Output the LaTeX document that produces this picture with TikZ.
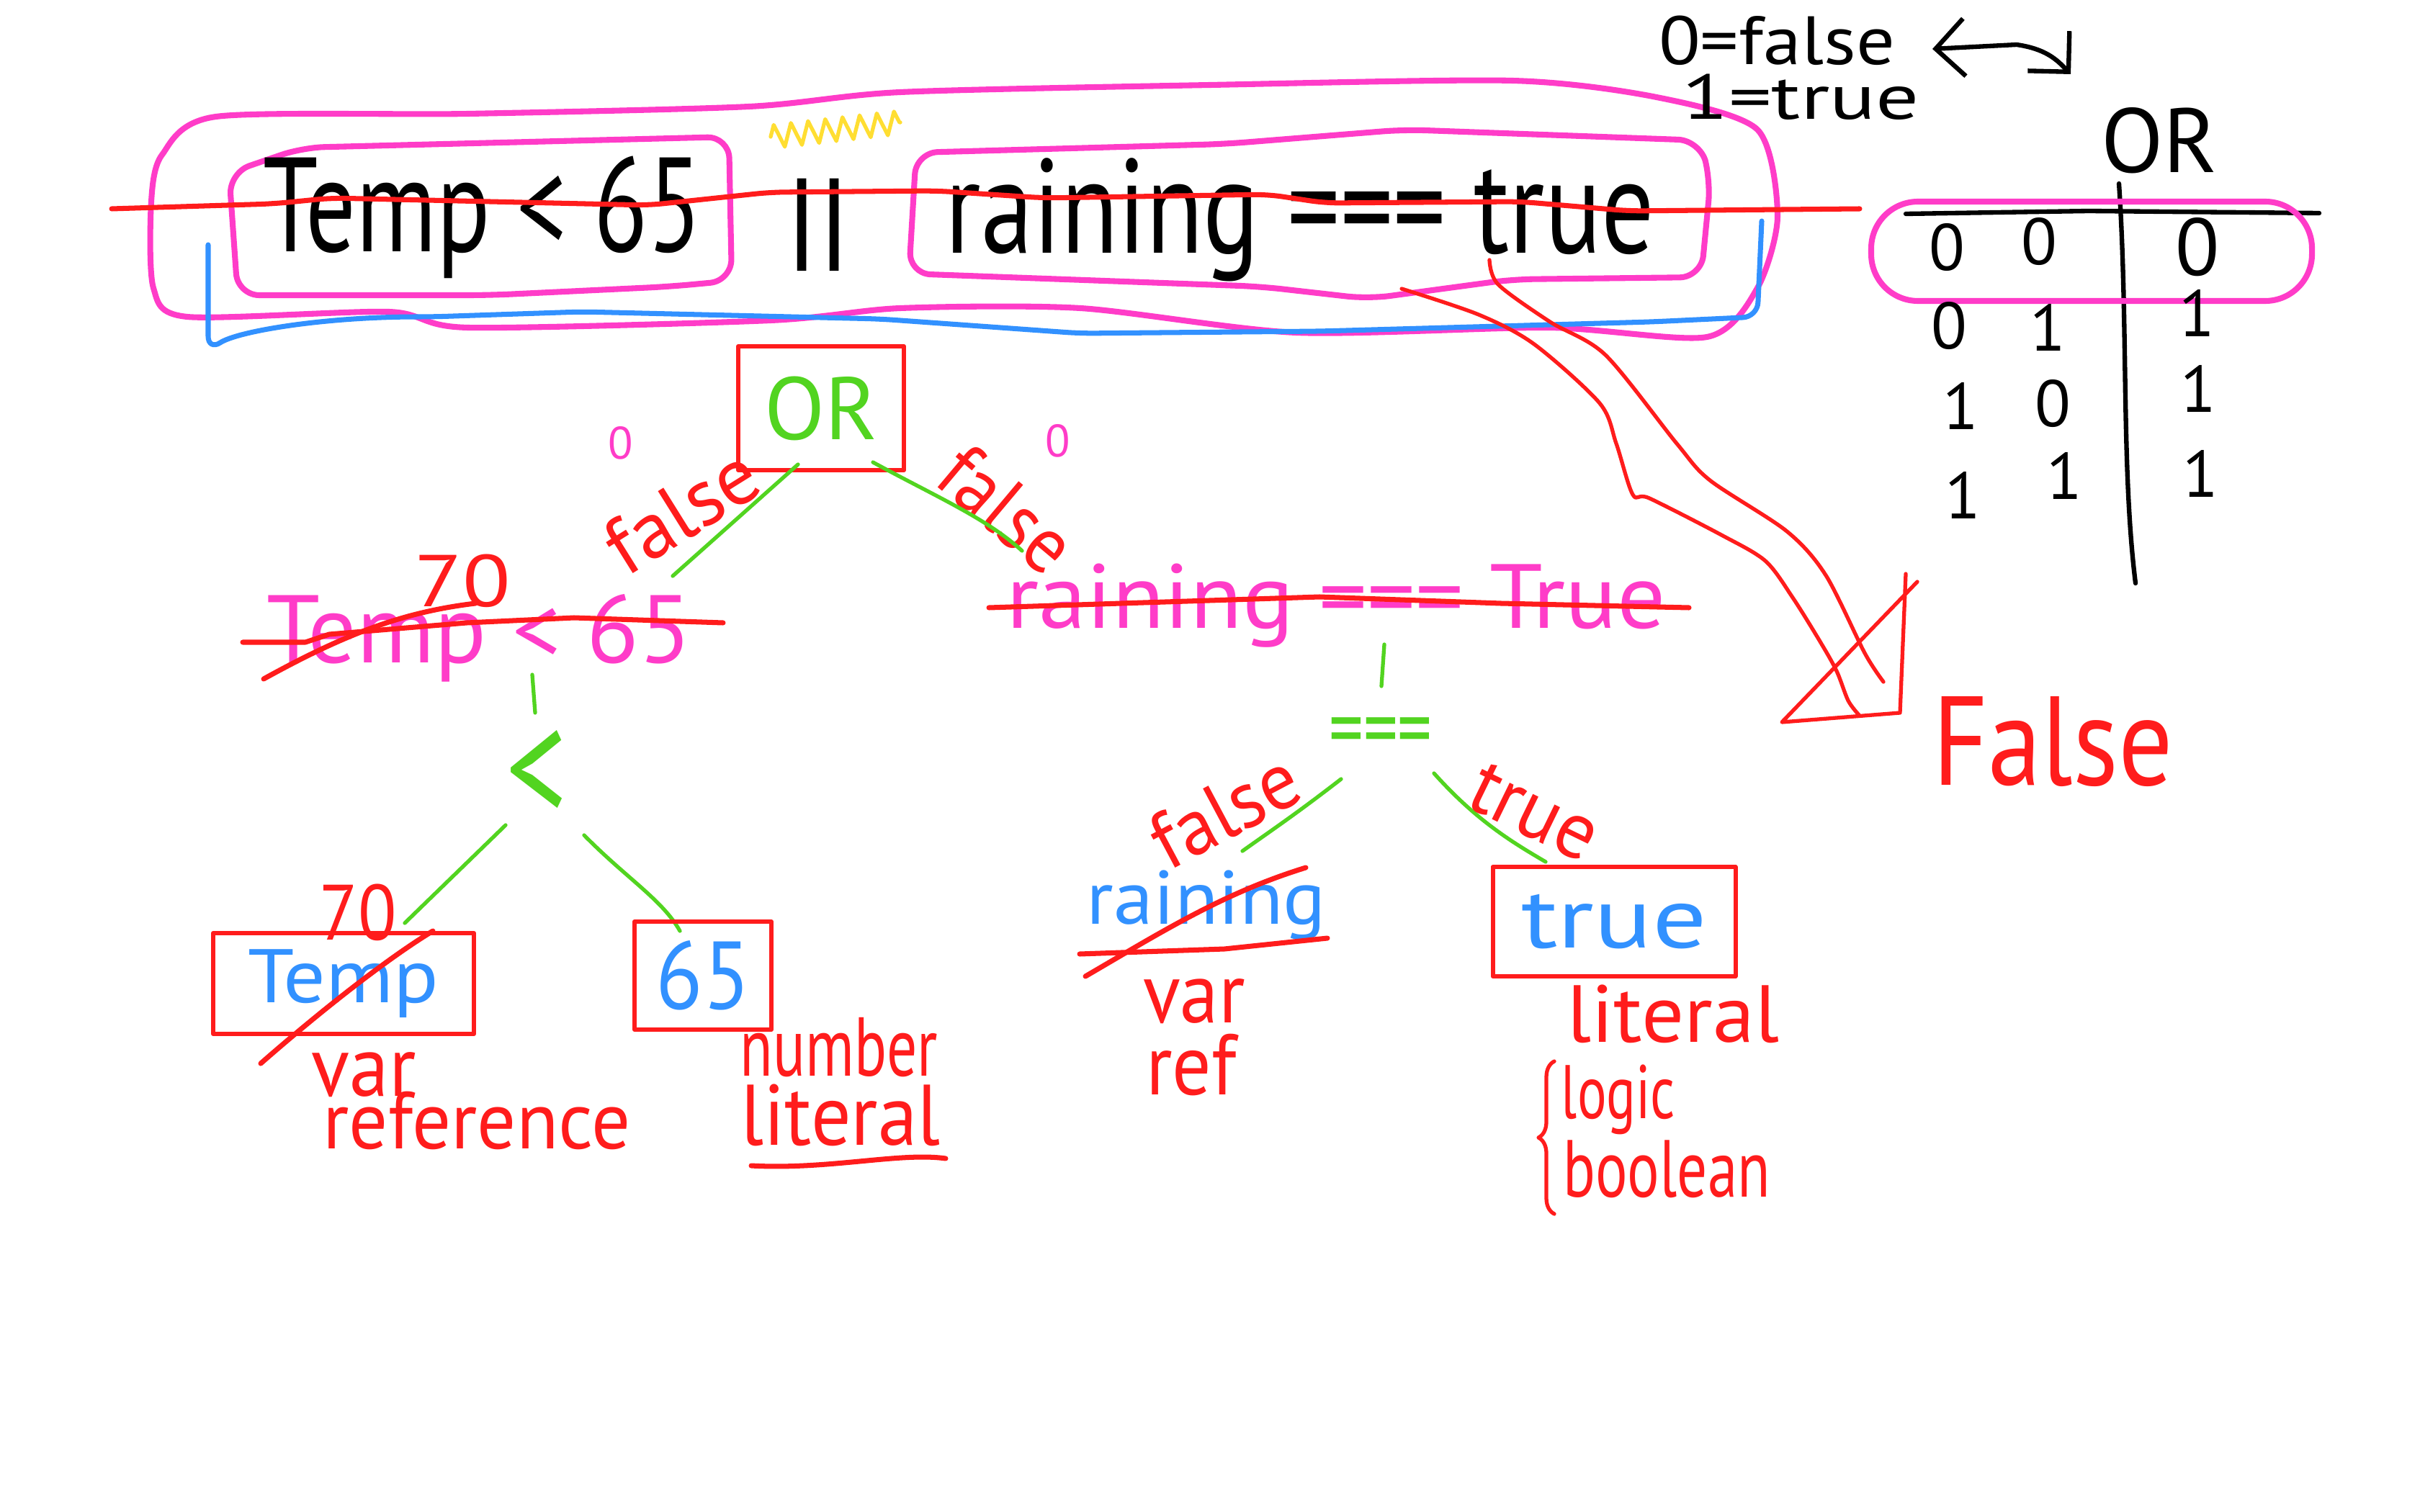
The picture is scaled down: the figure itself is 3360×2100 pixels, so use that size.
\documentclass[tikz,border=0pt]{standalone}
\usepackage{fontspec}
\setmainfont{PT Sans}
\usetikzlibrary{arrows.meta,decorations.pathmorphing,decorations.pathreplacing}
\definecolor{pk}{RGB}{255,60,200}
\definecolor{rd}{RGB}{255,28,28}
\definecolor{bl}{RGB}{50,145,255}
\definecolor{gn}{RGB}{82,212,32}
\definecolor{yl}{RGB}{255,222,50}
\begin{document}
\begin{tikzpicture}[x=0.1mm,y=-0.1mm,line cap=round,line join=round,
  hw/.style n args={3}{inner sep=0pt,anchor=base,text=#1,font=\fontsize{#2}{#2}\selectfont\addfontfeatures{FakeStretch=#3}},
  fnt/.style 2 args={font=\fontsize{#1}{#1}\selectfont\addfontfeatures{FakeStretch=#2}},
  pinkpen/.style={draw=pk,line width=2.3pt},
  redpen/.style={draw=rd,line width=2pt},
  thinred/.style={draw=rd,line width=1.5pt},
  greenpen/.style={draw=gn,line width=1.5pt},
  bluepen/.style={draw=bl,line width=2pt},
  blackpen/.style={draw=black,line width=1.8pt},
  rbox/.style 2 args={draw=rd,line width=1.7pt,minimum width=#1,minimum height=#2,inner sep=0pt},
]
\fill[white] (0,0) rectangle (3360,2100);
\useasboundingbox (0,0) rectangle (3360,2100);

% ---------- top expression ----------
\draw[pinkpen] plot[smooth cycle, tension=0.45] coordinates {(225,215) (300,162) (650,158) (1040,148) (1250,128) (1680,118) (2100,112) (2300,135) (2440,180) (2468,300) (2440,400) (2370,468) (2150,455) (1800,462) (1500,428) (1250,428) (1070,445) (650,455) (540,433) (260,440) (213,400) (210,280)};
\draw[bluepen, rounded corners=2mm] (289,340) -- (289,487) .. controls (330,460) and (450,440) .. (600,440) -- (808,433) -- (1222,443) -- (1500,463) -- (1834,460) -- (2293,447) -- (2440,440) -- (2446,307);
\draw[pinkpen, rounded corners=3mm] (318,240) -- (420,205) -- (1012,190) -- (1016,390) -- (930,398) -- (680,410) -- (330,410) -- cycle;
\draw[pinkpen, rounded corners=3mm] (1272,212) -- (1700,200) -- (1950,180) -- (2360,195) -- (2375,250) -- (2362,385) -- (2100,388) -- (1900,415) -- (1750,398) -- (1262,380) -- cycle;

\node[hw={black}{53}{0.74}] (topL) at (670,350) {Temp < 65};
\node[hw={black}{44}{1.2}, anchor=center] (topOr) at (1136,312) {||};
\node[hw={black}{53}{0.78}] (topR) at (1805,352) {raining === true};

\draw[redpen, rounded corners=2mm] (155,290) -- (380,283) -- (460,275) -- (900,285) -- (1070,267) -- (1300,265) -- (1450,275) -- (1760,270) -- (1840,282) -- (2110,280) -- (2262,293) -- (2582,290);
\draw[yl, line width=1.5pt, decorate, decoration={zigzag, segment length=2.4mm, amplitude=1.6mm}] (1070,190) -- (1250,170);

% ---------- legend & truth table ----------
\node[hw={black}{27}{1.12}] (zf) at (2467,90) {0=false};
\node[hw={black}{25}{1.35}] (ot) at (2500,166) {1=true};
\coordinate (arL) at (2683,68);
\coordinate (arR) at (2875,103);
\draw[blackpen, {Straight Barb[length=4mm,width=8mm]}-{Straight Barb[length=4mm,width=8mm]}] (arL) -- (2800,62) .. controls (2840,68) and (2855,82) .. (arR);

\node[hw={black}{36}{1}] (tOR) at (2998,240) {OR};
\draw[blackpen] (2646,297) -- (2900,293) -- (3220,296);
\draw[blackpen] (2942,255) .. controls (2955,450) and (2945,650) .. (2965,810);
\draw[pinkpen, rounded corners=6.5mm] (2598,280) rectangle (3210,418);
\begin{scope}[every node/.style={hw={black}{26}{1}, anchor=center}]
\node (c11) at (2703,344) {0};
\node (c12) at (2831,336) {0};
\node[fnt={32}{1}] (c13) at (3051,343) {0};
\node (c21) at (2706,453) {0};
\node (c22) at (2843,455) {1};
\node (c23) at (3050,435) {1};
\node (c31) at (2722,564) {1};
\node (c32) at (2850,561) {0};
\node (c33) at (3052,540) {1};
\node (c41) at (2725,688) {1};
\node (c42) at (2866,661) {1};
\node (c43) at (3055,658) {1};
\end{scope}

% ---------- tree ----------
\node[rbox={23mm}{17.2mm}, text=gn, fnt={35}{1}] (orN) at (1140,567) {OR};
\node[hw={pk}{18}{1}, anchor=center] (pz1) at (862,615) {0};
\node[hw={pk}{18}{1}, anchor=center] (pz2) at (1469,612) {0};

\node[hw={pk}{38}{1.0}] (pL) at (665,920) {Temp < 65};
\node[hw={pk}{36}{1.05}] (pR) at (1855,872) {raining === True};
\draw[redpen] (337,892) -- (424,892) -- (457,881) -- (648,865) -- (797,858) -- (1004,865);
\draw[redpen] (366,943) .. controls (480,880) and (560,850) .. (660,838);
\draw[redpen] (1373,844) -- (1832,829) -- (2084,838) -- (2345,844);
\node[hw={rd}{29}{1.2}] (sev1) at (642,842) {70};

\node[hw={rd}{32}{1}, anchor=center, rotate=32] (lf1) at (946,709) {false};
\node[hw={rd}{32}{0.9}, anchor=center, rotate=-40] (lf2) at (1398,707) {false};

\coordinate (g1a) at (1108,645); \coordinate (g1b) at (934,800);
\coordinate (g2a) at (1212,642); \coordinate (g2b) at (1419,765);
\draw[greenpen] (g1a) -- (g1b);
\draw[greenpen] (g2a) .. controls (1300,690) and (1370,720) .. (g2b);

% left subtree
\coordinate (g3a) at (739,937); \coordinate (g3b) at (743,990);
\draw[greenpen] (g3a) -- (g3b);
\node[hw={gn}{64}{0.75}, anchor=center] (ltN) at (745,1078) {<};
\coordinate (g4a) at (702,1146); \coordinate (g4b) at (562,1282);
\coordinate (g5a) at (811,1160); \coordinate (g5b) at (944,1293);
\draw[greenpen] (g4a) -- (g4b);
\draw[greenpen] (g5a) .. controls (870,1220) and (920,1250) .. (g5b);

\node[rbox={36.2mm}{14mm}, text=bl, fnt={30}{1.1}] (tempN) at (477,1366) {Temp};
\draw[redpen] (362,1477) .. controls (450,1400) and (540,1330) .. (601,1293);
\node[hw={rd}{31}{0.9}] (sev2) at (497,1305) {70};
\node[rbox={19mm}{15mm}, text=bl, fnt={38}{0.9}] (sixN) at (976,1355) {65};

\node[hw={rd}{34}{0.92}] (lvar) at (505,1522) {var};
\node[hw={rd}{32}{0.95}] (lref) at (662,1595) {reference};
\node[hw={rd}{33}{0.72}] (lnum) at (1165,1494) {number};
\node[hw={rd}{34}{0.92}] (llit) at (1167,1590) {literal};
\draw[redpen] (1043,1619) .. controls (1150,1625) and (1250,1600) .. (1313,1609);

% right subtree
\coordinate (g6a) at (1922,895); \coordinate (g6b) at (1918,953);
\draw[greenpen] (g6a) -- (g6b);
\node[hw={gn}{36}{0.75}, anchor=center] (eqN) at (1917,1026) {===};
\coordinate (g7a) at (1862,1082); \coordinate (g7b) at (1725,1182);
\coordinate (g8a) at (1991,1074); \coordinate (g8b) at (2146,1197);
\draw[greenpen] (g7a) .. controls (1800,1130) and (1770,1150) .. (g7b);
\draw[greenpen] (g8a) .. controls (2050,1140) and (2100,1170) .. (g8b);
\node[hw={rd}{32}{0.95}, anchor=center, rotate=28] (lf3) at (1700,1125) {false};
\node[hw={rd}{32}{0.95}, anchor=center, rotate=-26] (lt1) at (2130,1128) {true};

\node[hw={bl}{30}{1.05}] (rainN) at (1675,1283) {raining};
\draw[redpen] (1499,1325) -- (1700,1318) -- (1843,1303);
\draw[redpen] (1507,1356) .. controls (1620,1290) and (1700,1240) .. (1813,1205);
\node[rbox={33.7mm}{15.2mm}, text=bl, fnt={34}{1.25}] (trueN) at (2241,1280) {true};

\node[hw={rd}{34}{0.9}] (rvar) at (1658,1420) {var};
\node[hw={rd}{34}{0.9}] (rref) at (1654,1520) {ref};
\node[hw={rd}{32}{1.04}] (rlit) at (2323,1447) {literal};
\draw[thinred, decorate, decoration={brace, amplitude=2.2mm}] (2158,1686) -- (2158,1474);
\node[hw={rd}{30}{0.72}] (rlog) at (2247,1553) {logic};
\node[hw={rd}{32}{0.74}] (rbool) at (2314,1662) {boolean};

% ---------- big hollow arrow to False ----------
\draw[thinred] plot[smooth, tension=0.5] coordinates {(1946,401) (2053,437) (2130,478) (2221,560) (2244,616) (2267,687) (2290,692) (2390,743) (2451,779) (2489,830) (2527,891) (2550,932) (2566,973) (2581,993)};
\draw[thinred] plot[smooth, tension=0.5] coordinates {(2068,361) (2080,395) (2152,447) (2229,493) (2328,616) (2374,667) (2481,738) (2535,799) (2589,907) (2615,947)};
\draw[thinred] (2646,797) -- (2638,990) -- (2474,1003) -- (2662,808);
\node[hw={rd}{50}{0.85}] (falseN) at (2850,1090) {False};
\end{tikzpicture}
\end{document}
